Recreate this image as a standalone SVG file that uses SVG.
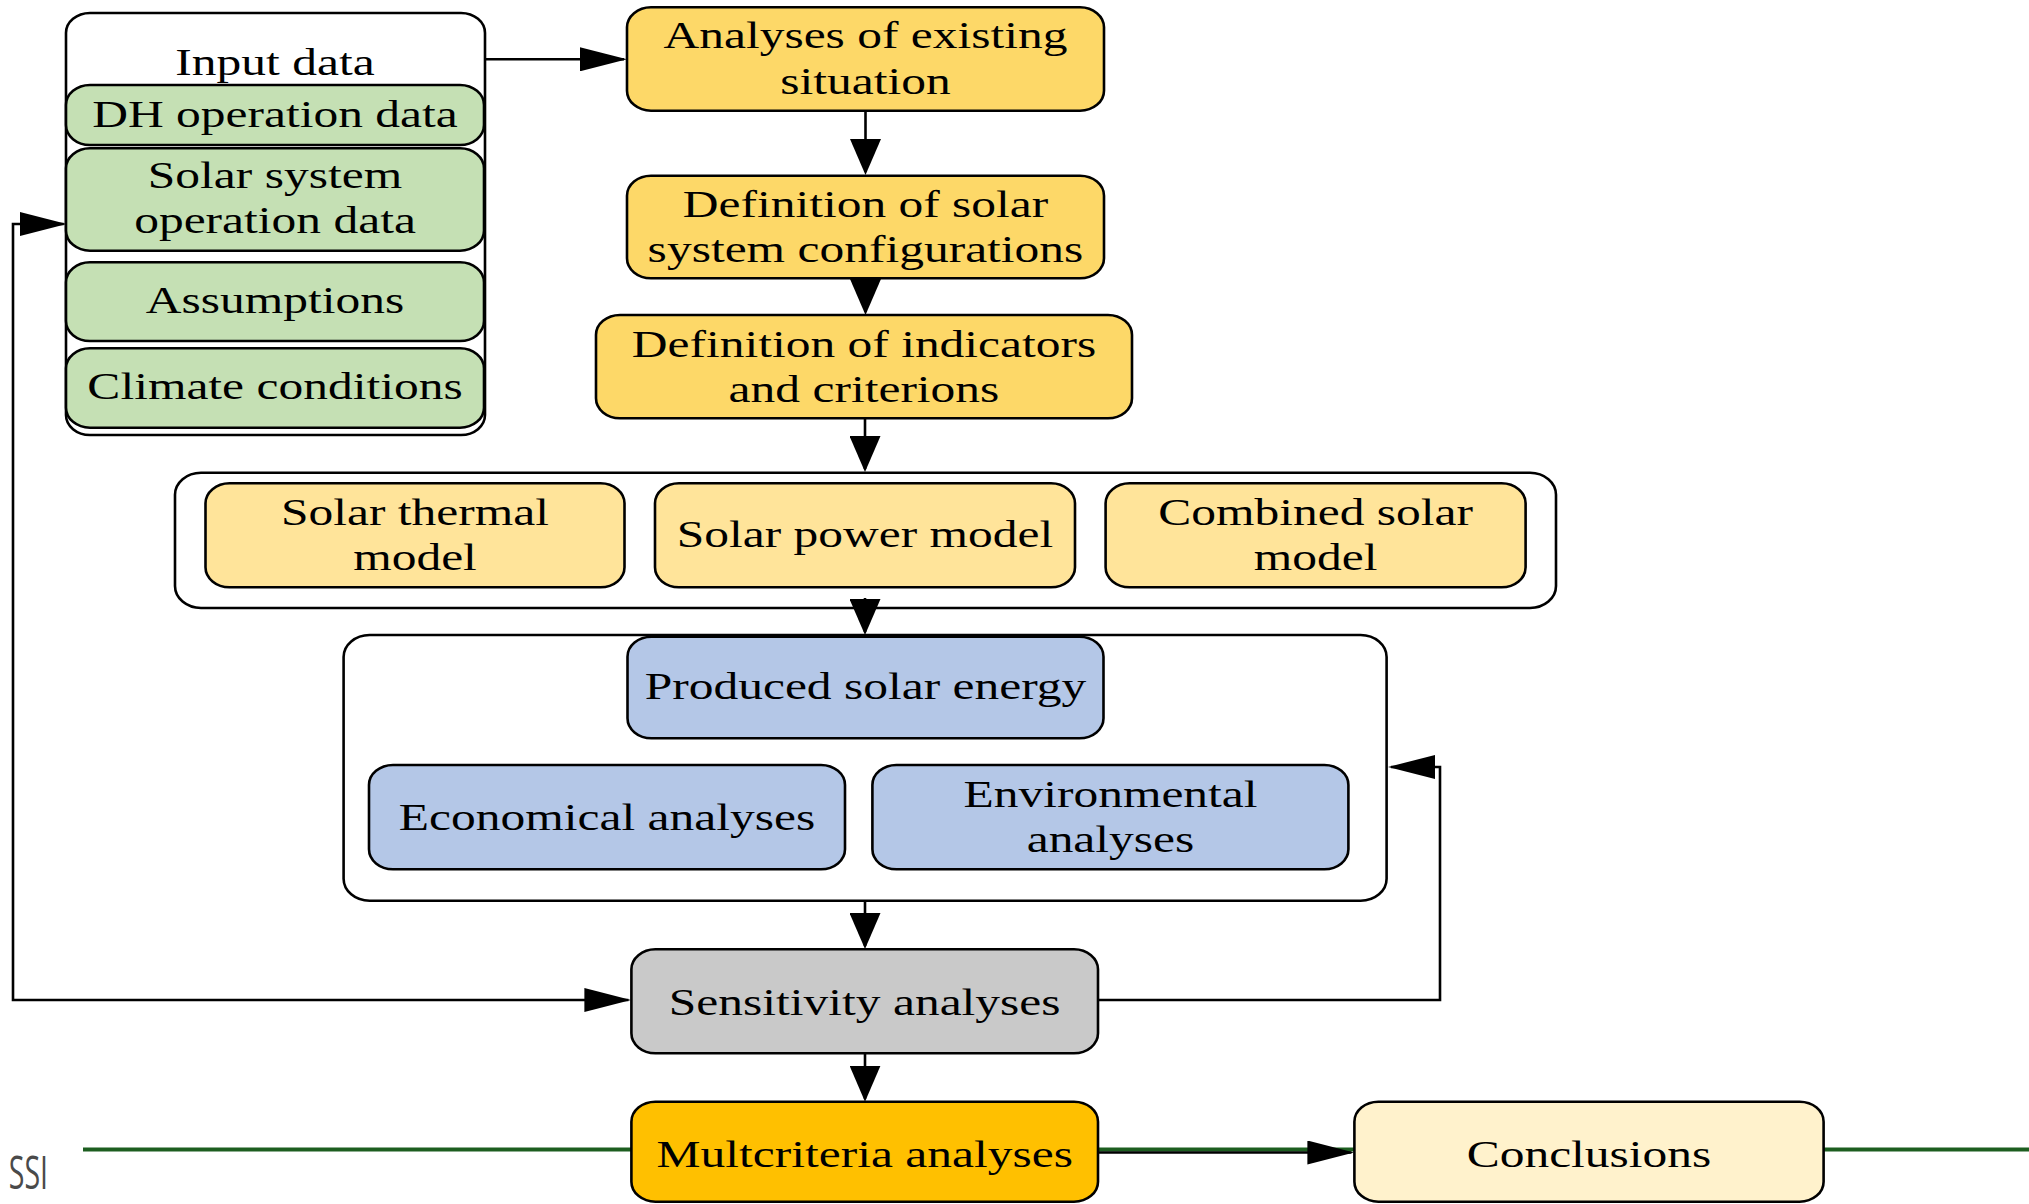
<svg xmlns="http://www.w3.org/2000/svg" width="2029" height="1204" viewBox="0 0 2029 1204">
<style>
  .box { stroke: #000; stroke-width: 2.6; }
  .cont { fill: #fff; stroke: #000; stroke-width: 2.6; }
  .green { fill: #C5E0B4; }
  .yel { fill: #FDD868; }
  .model { fill: #FFE49A; }
  .blue { fill: #B4C7E7; }
  .gray { fill: #C9C9C9; }
  .orange { fill: #FFC000; }
  .pale { fill: #FFF2CC; }
  .t { font-family: "Liberation Serif", "Times New Roman", serif; font-size: 37.5px; fill: #000; text-anchor: middle; }
  .c { fill: none; stroke: #000; stroke-width: 2.6; }
  .ssi { font-family: "Open Sans", "Liberation Sans", sans-serif; font-size: 46px; fill: #4a4a4a; text-anchor: end; }
</style>
<defs>
  <marker id="av" markerUnits="userSpaceOnUse" viewBox="0 0 36 31" markerWidth="36" markerHeight="31" refX="33" refY="15.5" orient="auto">
    <path d="M0,0 L36,15.5 L0,31 Z" fill="#000"/>
  </marker>
  <marker id="ah" markerUnits="userSpaceOnUse" viewBox="0 0 47 24" markerWidth="47" markerHeight="24" refX="44" refY="12" orient="auto-start-reverse">
    <path d="M0,0 L47,12 L0,24 Z" fill="#000"/>
  </marker>
</defs>
<rect width="2029" height="1204" fill="#fff"/>

<!-- footer decoration -->
<line x1="83" y1="1149.5" x2="2029" y2="1149.5" stroke="#1d5e20" stroke-width="4"/>
<text class="ssi" transform="matrix(0.62 0 0 1 48 1189)">SSI</text>

<g id="input-data">
  <rect class="cont" x="66" y="13" width="419" height="422" rx="24" ry="20"/>
  <text class="t" transform="matrix(1.32 0 0 1 275 75)">Input data</text>
</g>
<g id="dh-operation-data">
  <rect class="box green" x="66" y="85" width="418" height="60" rx="24" ry="20"/>
  <text class="t" transform="matrix(1.32 0 0 1 275 126.7)">DH operation data</text>
</g>
<g id="solar-system-operation-data">
  <rect class="box green" x="66" y="148.3" width="418" height="102.4" rx="24" ry="20"/>
  <text class="t" transform="matrix(1.32 0 0 1 275 188.3)"><tspan x="0" y="0">Solar system</tspan><tspan x="0" y="45">operation data</tspan></text>
</g>
<g id="assumptions">
  <rect class="box green" x="66" y="262.3" width="418" height="78.7" rx="24" ry="20"/>
  <text class="t" transform="matrix(1.32 0 0 1 275 313.3)">Assumptions</text>
</g>
<g id="climate-conditions">
  <rect class="box green" x="66" y="348.3" width="418" height="79.4" rx="24" ry="20"/>
  <text class="t" transform="matrix(1.32 0 0 1 275 399.3)">Climate conditions</text>
</g>

<g id="analyses-existing">
  <rect class="box yel" x="627" y="7.3" width="477" height="103.4" rx="24" ry="20"/>
  <text class="t" transform="matrix(1.32 0 0 1 865.5 48.3)"><tspan x="0" y="0">Analyses of existing</tspan><tspan x="0" y="45.7">situation</tspan></text>
</g>
<g id="definition-solar">
  <rect class="box yel" x="627" y="175.7" width="477" height="102.6" rx="24" ry="20"/>
  <text class="t" transform="matrix(1.32 0 0 1 865.5 216.7)"><tspan x="0" y="0">Definition of solar</tspan><tspan x="0" y="45">system configurations</tspan></text>
</g>
<g id="definition-indicators">
  <rect class="box yel" x="596" y="315" width="536" height="103.3" rx="24" ry="20"/>
  <text class="t" transform="matrix(1.32 0 0 1 864 356.7)"><tspan x="0" y="0">Definition of indicators</tspan><tspan x="0" y="45">and criterions</tspan></text>
</g>

<g id="models-group">
  <rect class="cont" x="175" y="472.7" width="1381" height="135.3" rx="26" ry="22"/>
</g>
<g id="solar-thermal-model">
  <rect class="box model" x="205.5" y="483.3" width="419" height="104" rx="24" ry="20"/>
  <text class="t" transform="matrix(1.32 0 0 1 415 525)"><tspan x="0" y="0">Solar thermal</tspan><tspan x="0" y="45">model</tspan></text>
</g>
<g id="solar-power-model">
  <rect class="box model" x="655" y="483.3" width="420" height="104" rx="24" ry="20"/>
  <text class="t" transform="matrix(1.32 0 0 1 865 546.7)">Solar power model</text>
</g>
<g id="combined-solar-model">
  <rect class="box model" x="1105.6" y="483.3" width="420" height="104" rx="24" ry="20"/>
  <text class="t" transform="matrix(1.32 0 0 1 1315.6 525)"><tspan x="0" y="0">Combined solar</tspan><tspan x="0" y="45">model</tspan></text>
</g>

<g id="analyses-group">
  <rect class="cont" x="343.6" y="635" width="1043" height="265.7" rx="26" ry="22"/>
</g>
<g id="produced-solar-energy">
  <rect class="box blue" x="627.5" y="636.7" width="476" height="101.6" rx="24" ry="20"/>
  <text class="t" transform="matrix(1.32 0 0 1 865.5 699)">Produced solar energy</text>
</g>
<g id="economical-analyses">
  <rect class="box blue" x="369" y="765" width="476" height="104.3" rx="24" ry="20"/>
  <text class="t" transform="matrix(1.32 0 0 1 607 829.5)">Economical analyses</text>
</g>
<g id="environmental-analyses">
  <rect class="box blue" x="872.4" y="765" width="476" height="104.3" rx="24" ry="20"/>
  <text class="t" transform="matrix(1.32 0 0 1 1110.5 806.7)"><tspan x="0" y="0">Environmental</tspan><tspan x="0" y="45">analyses</tspan></text>
</g>

<g id="sensitivity-analyses">
  <rect class="box gray" x="631.4" y="949.3" width="466.6" height="104" rx="24" ry="20"/>
  <text class="t" transform="matrix(1.32 0 0 1 864.7 1015)">Sensitivity analyses</text>
</g>
<g id="multcriteria-analyses">
  <rect class="box orange" x="631.4" y="1101.7" width="466.6" height="100" rx="24" ry="20"/>
  <text class="t" transform="matrix(1.32 0 0 1 864.7 1166.7)">Multcriteria analyses</text>
</g>
<g id="conclusions">
  <rect class="box pale" x="1354.4" y="1101.7" width="469.2" height="100" rx="24" ry="20"/>
  <text class="t" transform="matrix(1.32 0 0 1 1589 1166.7)">Conclusions</text>
</g>

<g id="connectors">
  <path class="c" d="M485 59.3 H624" marker-end="url(#ah)"/>
  <path class="c" d="M865.5 110.7 V172" marker-end="url(#av)"/>
  <path class="c" d="M865.5 279 V312" marker-end="url(#av)"/>
  <path class="c" d="M865 418.3 V469" marker-end="url(#av)"/>
  <path class="c" d="M865 598 V632" marker-end="url(#av)"/>
  <path class="c" d="M865 900.7 V946" marker-end="url(#av)"/>
  <path class="c" d="M865 1053.3 V1098.7" marker-end="url(#av)"/>
  <path class="c" d="M628.4 1000 H13 V224 H63.7" marker-start="url(#ah)" marker-end="url(#ah)"/>
  <path class="c" d="M1098 1000 H1440 V767 H1391" marker-end="url(#ah)"/>
  <path class="c" d="M1098 1152.5 H1351.4" stroke-width="3.5" marker-end="url(#ah)"/>
</g>
</svg>
